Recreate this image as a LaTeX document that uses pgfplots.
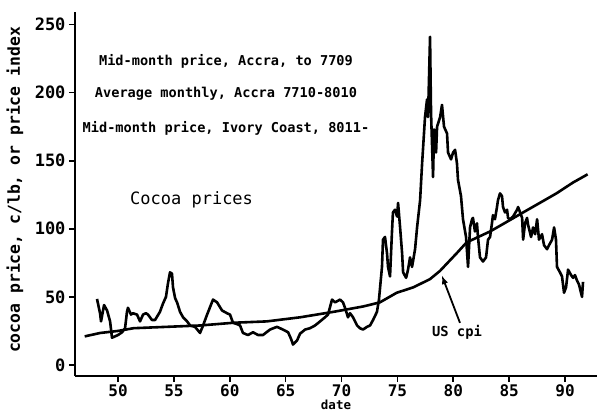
\documentclass[border=0pt]{standalone}
\usepackage{fontspec}
\setmainfont{DejaVu Sans Mono}
\usepackage{pgfplots}
\pgfplotsset{compat=1.18}
\begin{document}
\begin{tikzpicture}
\useasboundingbox (-75bp,-35bp) rectangle (522bp,376bp);
\begin{axis}[
  at={(0,0)}, anchor=south west, scale only axis,
  width=522bp, height=364bp,
  xmin=46.15, xmax=92.86, ymin=-8.1, ymax=259.2,
  axis lines*=left,
  axis line style={line width=1.8bp},
  tick align=outside, major tick length=6bp,
  tick style={line width=1.6bp, black},
  xtick={50,55,...,90}, ytick={0,50,...,250},
  /pgf/number format/assume math mode=true,
  yticklabel style={font=\fontsize{17bp}{20bp}\selectfont\bfseries},
  xticklabel style={font=\fontsize{16bp}{18bp}\selectfont\bfseries, yshift=1bp},
  xlabel={date}, ylabel={cocoa price, c/lb, or price index},
  xlabel style={font=\fontsize{12.5bp}{14bp}\selectfont\bfseries, at={(axis description cs:0.5,-0.079)}, anchor=center},
  ylabel style={font=\fontsize{16.4bp}{18bp}\selectfont\bfseries, at={(axis description cs:-0.115,0.511)}, anchor=center, rotate=0},
  clip=false,
]
\addplot[black, line width=2.6bp, line join=round] coordinates {
(48.12,48.5)(48.39,38)(48.48,32)(48.75,44)(49.02,40)(49.29,32)(49.46,20)(49.73,21)
(50.00,22)(50.36,24)(50.63,27)(50.80,39)(50.89,42)(51.16,37)(51.34,38)(51.70,37)
(51.97,32)(52.24,37)(52.50,38)(52.68,37)(53.04,33)(53.31,33)(53.75,39)(54.02,45)
(54.29,50)(54.47,60)(54.65,68)(54.83,67)(54.92,57)(55.11,49)(55.28,46)(55.55,39)
(55.82,35)(56.18,32)(56.45,29)(56.89,28)(57.34,23.5)(57.61,29)(57.97,37)(58.50,48)
(58.86,46)(59.31,40)(59.75,38)(60.02,37)(60.29,31)(60.65,30)(60.92,29)(61.18,23.5)
(61.63,22)(62.08,24)(62.53,22)(62.97,22)(63.60,26)(64.22,28)(64.76,26)(65.22,24)
(65.49,19)(65.66,15)(66.02,18)(66.29,23)(66.74,26)(67.18,27)(67.63,29)(68.08,32)
(68.52,35)(68.79,37)(69.15,48)(69.42,46)(69.87,48)(70.13,46)(70.31,42)(70.58,35)
(70.76,38)(71.03,35)(71.39,29)(71.65,27)(71.92,26)(72.28,28)(72.55,29)(72.82,33)
(73.17,39)(73.35,48)(73.62,72)(73.71,92)(73.89,94)(74.07,82)(74.16,72)(74.34,65)
(74.51,97)(74.60,112)(74.78,114)(74.97,109)(75.06,119)(75.24,101)(75.42,82)(75.51,68)
(75.78,64)(75.95,70)(76.13,79)(76.31,72)(76.58,85)(76.76,101)(77.03,121)(77.21,148)
(77.47,182)(77.65,195)(77.74,182)(77.92,241)(78.01,185)(78.19,138)(78.28,173)(78.46,156)
(78.55,175)(78.82,182)(78.99,191)(79.17,175)(79.44,170)(79.53,156)(79.80,151)(79.98,156)
(80.16,158)(80.33,148)(80.42,136)(80.69,124)(80.87,107)(81.14,94)(81.32,72)(81.50,101)
(81.68,107)(81.76,108)(81.94,98)(82.12,104)(82.21,94)(82.39,79)(82.66,76)(82.93,79)
(83.11,92)(83.29,94)(83.46,104)(83.55,110)(83.73,107)(83.91,116)(84.00,121)(84.18,126)
(84.36,124)(84.45,116)(84.63,112)(84.81,114)(84.90,108)(85.08,107)(85.35,109)(85.71,114)
(85.80,116)(85.98,112)(86.16,108)(86.25,92)(86.42,104)(86.60,108)(86.69,103)(86.96,94)
(87.14,101)(87.32,96)(87.50,107)(87.67,92)(87.94,96)(88.12,88)(88.39,85)(88.57,88)
(88.84,92)(89.02,101)(89.19,92)(89.28,72)(89.55,68)(89.73,65)(89.91,53)(90.09,57)
(90.27,70)(90.54,66)(90.72,64)(90.89,66)(91.07,62)(91.25,59)(91.52,50)(91.61,61)
};
\addplot[black, line width=2.6bp, line join=round] coordinates {
(47.02,21)(48.41,23.5)(50.00,25)(51.39,27)(54.37,28)(57.35,29)(60.33,31)(63.31,32)
(66.29,35)(69.27,39)(71.96,43)(73.44,46)(74.93,53)(76.42,57)(77.91,63)(78.80,69)
(80.30,82)(81.19,90)(83.28,98)(84.77,105)(86.25,112)(87.74,119)(89.23,126)(90.72,134)
(92.02,140)
};
\node[font=\fontsize{13.6bp}{15bp}\selectfont\bfseries] at (axis cs:59.66,223) {Mid-month price, Accra, to 7709};
\node[font=\fontsize{13.6bp}{15bp}\selectfont\bfseries] at (axis cs:59.66,199) {Average monthly, Accra 7710-8010};
\node[font=\fontsize{13.6bp}{15bp}\selectfont\bfseries] at (axis cs:59.66,174) {Mid-month price, Ivory Coast, 8011-};
\node[font=\fontsize{17bp}{19bp}\selectfont] at (axis cs:56.58,121) {Cocoa prices};
\node[font=\fontsize{13.8bp}{15bp}\selectfont\bfseries] at (axis cs:80.33,24.3) {US cpi};
\draw[-latex, line width=1.8bp] (axis cs:80.60,30.9) -- (axis cs:78.99,65.4);
\end{axis}
\end{tikzpicture}
\end{document}
